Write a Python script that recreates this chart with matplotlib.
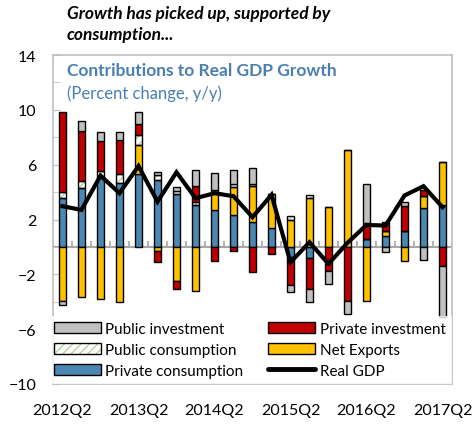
import numpy as np
import matplotlib
matplotlib.use("Agg")
import matplotlib.pyplot as plt
from matplotlib.patches import Patch
from matplotlib.lines import Line2D

plt.rcParams['font.family'] = ['Lato', 'DejaVu Sans']

# Quarterly contributions to real GDP growth (percentage points, y/y)
quarters = ["2012Q2", "2012Q3", "2012Q4", "2013Q1", "2013Q2", "2013Q3", "2013Q4",
            "2014Q1", "2014Q2", "2014Q3", "2014Q4", "2015Q1", "2015Q2", "2015Q3",
            "2015Q4", "2016Q1", "2016Q2", "2016Q3", "2016Q4", "2017Q1", "2017Q2"]

private_consumption = [3.55, 4.28, 5.20, 4.65, 5.33, 4.89, 3.87, 3.07, 2.70, 2.34, 1.80,
                       1.36, -0.75, -0.83, 0.00, 0.00, 0.58, 0.83, 1.14, 2.85, 3.07]
net_exports = [-3.92, -3.67, -3.80, -3.99, 2.07, -0.27, -2.46, -3.19, 1.46, 2.02, 2.67,
               2.51, 2.00, 3.58, 2.90, 7.10, -3.92, 0.31, -1.05, 0.90, 3.16]
public_consumption = [0.45, 0.56, 0.37, 0.68, 0.73, 0.39, 0.24, 0.19, 0.00, 0.24, 0.12,
                      0.00, 0.24, 0.24, 0.00, 0.00, 0.00, 0.00, 0.00, 0.00, 0.00]
private_investment = [5.83, 3.60, 2.19, 2.48, 0.85, -0.85, -0.61, 1.21, -1.05, -0.27, -1.85,
                      -0.51, -2.02, -2.24, -1.73, -3.92, 1.17, 0.71, 1.83, 0.43, -1.36]
public_investment = [-0.35, 0.78, 0.61, 0.56, 0.85, 0.22, 0.24, 1.15, 1.24, 1.02, 1.15,
                     0.00, -0.54, -0.97, -0.97, -0.97, 2.85, -0.34, 0.34, -0.93, -3.77]
real_gdp = [2.97, 2.70, 5.20, 3.92, 5.90, 3.30, 5.45, 3.55, 3.92, 3.70, 2.17,
            3.80, -1.12, 0.34, -1.24, 0.30, 1.60, 1.56, 3.75, 4.43, 2.90]

label_quarters = ["2012Q2", "2013Q2", "2014Q2", "2015Q2", "2016Q2", "2017Q2"]

BLUE = "#4A87B3"
YELLOW = "#FFC000"
RED = "#C00000"
GREY = "#C0C0C0"
HATCH_GREEN = "#B5D39A"
FRAME = "#BFBFBF"
TITLE_BLUE = "#4A7EB2"

fig = plt.figure(figsize=(4.73, 4.27), dpi=100)
ax = fig.add_axes([53 / 473, 1 - 385 / 427, 399 / 473, 329 / 427])

x = np.arange(len(quarters))
width = 0.38
pos_base = np.zeros(len(x))
neg_base = np.zeros(len(x))

series = [
    (private_consumption, BLUE, False),
    (net_exports, YELLOW, False),
    (public_consumption, "white", True),
    (private_investment, RED, False),
    (public_investment, GREY, False),
]

for values, color, hatched in series:
    v = np.asarray(values, dtype=float)
    base = np.where(v >= 0, pos_base, neg_base)
    if hatched:
        ax.bar(x, v, width, bottom=base, facecolor="white", edgecolor=HATCH_GREEN,
               hatch="////", linewidth=0, zorder=2)
        ax.bar(x, v, width, bottom=base, facecolor="none", edgecolor="black",
               linewidth=1.0, zorder=3)
    else:
        ax.bar(x, v, width, bottom=base, color=color, edgecolor="black",
               linewidth=1.0, zorder=3)
    pos_base = pos_base + np.where(v > 0, v, 0)
    neg_base = neg_base + np.where(v < 0, v, 0)

ax.plot(x, real_gdp, color="black", linewidth=3.0, solid_joinstyle="miter", zorder=5)

# zero line with small category separators
ax.axhline(0, color="#A6A6A6", linewidth=1.5, zorder=1)
ax.vlines(np.arange(len(x) + 1) - 0.5, 0, 0.4, color="#A6A6A6", linewidth=1.2, zorder=1)

ax.set_xlim(-0.5, len(x) - 0.5)
ax.set_ylim(-10, 14)

ax.set_yticks([-10, -6, -2, 2, 6, 10, 14])
ax.set_yticks(np.arange(-10, 15, 2), minor=True)
ax.tick_params(axis="y", which="both", direction="in", length=5, color=FRAME,
               labelsize=11.5, pad=12)
ax.tick_params(axis="x", length=0, labelsize=11.5, pad=14)
ax.set_xticks([quarters.index(q) for q in label_quarters])
ax.set_xticklabels(label_quarters)

for s in ax.spines.values():
    s.set_color(FRAME)
    s.set_linewidth(1.2)

ax.text(0.035, 0.955, "Contributions to Real GDP Growth", transform=ax.transAxes,
        fontsize=12.5, fontweight="bold", color=TITLE_BLUE, va="center", ha="left")
ax.text(0.035, 0.885, "(Percent change, y/y)", transform=ax.transAxes,
        fontsize=12, color=TITLE_BLUE, va="center", ha="left")

fig.text(67 / 473, 1 - 6 / 427, "Growth has picked up, supported by\nconsumption...",
         fontsize=12.5, fontweight="bold", fontstyle="italic", va="top", ha="left",
         linespacing=1.35)

# legend
h_pub_inv = Patch(facecolor=GREY, edgecolor="black", linewidth=1.0)
h_pub_cons = (Patch(facecolor="white", edgecolor=HATCH_GREEN, hatch="////", linewidth=0),
              Patch(facecolor="none", edgecolor="black", linewidth=1.0))
h_priv_cons = Patch(facecolor=BLUE, edgecolor="black", linewidth=1.0)
h_priv_inv = Patch(facecolor=RED, edgecolor="black", linewidth=1.0)
h_net_exp = Patch(facecolor=YELLOW, edgecolor="black", linewidth=1.0)
h_gdp = Line2D([], [], color="black", linewidth=3.5, solid_capstyle="round")

leg = ax.legend([h_pub_inv, h_pub_cons, h_priv_cons, h_priv_inv, h_net_exp, h_gdp],
                ["Public investment", "Public consumption", "Private consumption",
                 "Private investment", "Net Exports", "Real GDP"],
                ncol=2, loc="lower left", bbox_to_anchor=(-0.014, 0.0),
                frameon=True, fontsize=11, handlelength=3.1, handleheight=0.75,
                handletextpad=0.3, columnspacing=1.6, labelspacing=0.45,
                borderaxespad=0.0, borderpad=0.4, fancybox=False)
leg.get_frame().set_edgecolor("none")
leg.get_frame().set_facecolor("white")
leg.set_zorder(6)

fig.savefig("out.png", dpi=100, facecolor="white")
